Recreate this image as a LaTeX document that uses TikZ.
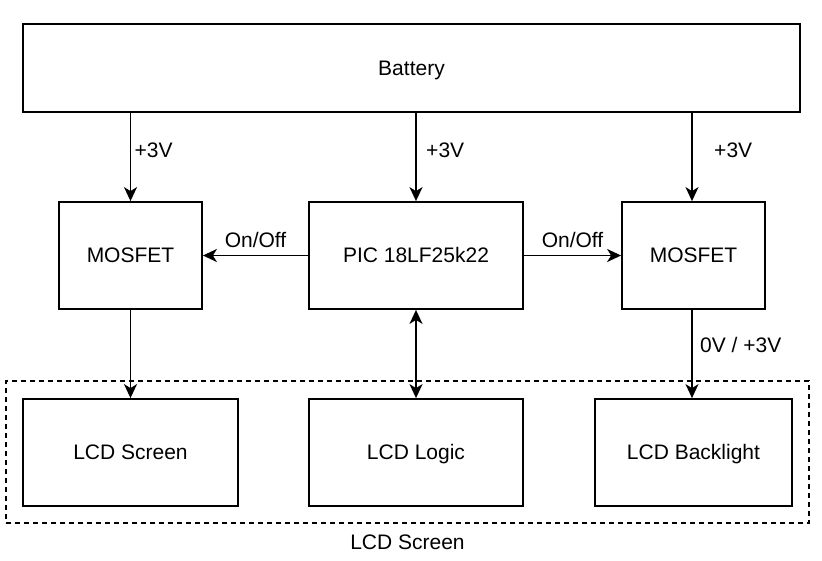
\documentclass[tikz,border=0pt]{standalone}
\usepackage{fontspec}
\setmainfont{Liberation Sans}
\usetikzlibrary{arrows.meta,positioning}

\begin{document}
\begin{tikzpicture}[x=1pt,y=-1pt,
                block/.style={draw,line width=1.8pt,minimum height=107pt,inner sep=0pt,text height=14.5pt,text depth=0pt},
                wire/.style={line width=1.8pt,-{Stealth[length=14pt,width=13pt,inset=4pt]}},
                twoway/.style={line width=1.8pt,{Stealth[length=14pt,width=13pt,inset=4pt]}-{Stealth[length=14pt,width=13pt,inset=4pt]}},
                every node/.style={font=\fontsize{21}{24}\selectfont}]
                \useasboundingbox (0,0) rectangle (822,560);

                \node (Battery) [block,minimum width=777pt,minimum height=88pt] at (411.5,68) {Battery};
                \node (MosfetLeft) [block,minimum width=143pt] at (130.5,255.5) {MOSFET};
                \node (Pic) [block,minimum width=214pt] at (416,255.5) {PIC 18LF25k22};
                \node (MosfetRight) [block,minimum width=143pt] at (693.5,255.5) {MOSFET};

                \node (LcdGroup) [draw,line width=1.5pt,dash pattern=on 5pt off 4pt,minimum width=803pt,minimum height=142pt,inner sep=0pt] at (407.5,452) {};
                \node (LcdGroupLabel) [below=8pt of LcdGroup.south] {LCD Screen};

                \node (LcdScreen) [block,minimum width=215pt] at (130.5,452.5) {LCD Screen};
                \node (LcdLogic) [block,minimum width=214pt] at (416,452.5) {LCD Logic};
                \node (LcdBacklight) [block,minimum width=197pt] at (693.5,452.5) {LCD Backlight};

                \draw[wire] (MosfetLeft.north |- Battery.south)--(MosfetLeft.north) node[midway,right=0pt,yshift=7pt] {+3V};
                \draw[wire] (Pic.north |- Battery.south)--(Pic.north) node[midway,right=6pt,yshift=7pt] {+3V};
                \draw[wire] ([xshift=-1.5pt]MosfetRight.north |- Battery.south)--([xshift=-1.5pt]MosfetRight.north) node[midway,right=18pt,yshift=7pt] {+3V};

                \draw[wire] (Pic.west)--(MosfetLeft.east) node[midway,above=4pt] {On/Off};
                \draw[wire] (Pic.east)--(MosfetRight.west) node[midway,above=4pt] {On/Off};

                \draw[wire] (MosfetLeft.south)--(LcdScreen.north);
                \draw[twoway] (Pic.south)--(LcdLogic.north);
                \draw[wire] ([xshift=-1.5pt]MosfetRight.south)--([xshift=-1.5pt]LcdBacklight.north) node[midway,right=4pt,yshift=9pt] {0V / +3V};
            \end{tikzpicture}
\end{document}
